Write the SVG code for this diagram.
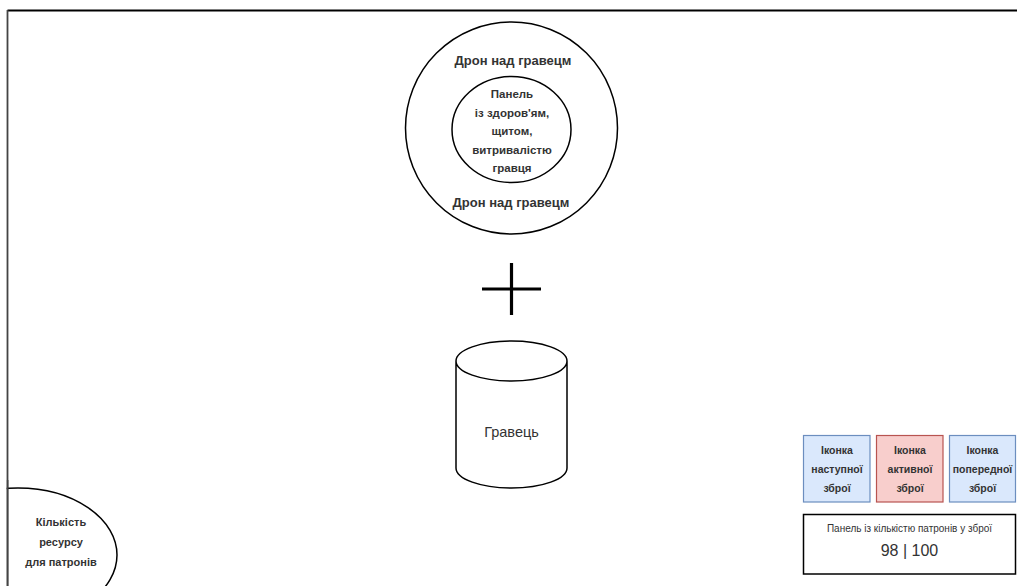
<svg xmlns="http://www.w3.org/2000/svg" width="1017" height="586" viewBox="0 0 1017 586">
<style>
.ln{fill:none;stroke:#000;stroke-width:1.5}
.t{font-family:"Liberation Sans",Arial,sans-serif;fill:#333;text-anchor:middle}
.b{font-weight:bold}
.blue{fill:#dae8fc;stroke:#6c8ebf;stroke-width:1.2}
.red{fill:#f8cecc;stroke:#b85450;stroke-width:1.2}
</style>
<rect width="1017" height="586" fill="#fff"/>
<g id="frame">
<line x1="7.5" y1="10.5" x2="1017" y2="10.5" stroke="#000" stroke-width="2.2"/>
<line x1="7.5" y1="10" x2="7.5" y2="586" stroke="#444" stroke-width="1.8"/>
</g>
<g id="drone">
<circle cx="511.5" cy="128" r="106" class="ln"/>
<text class="t b" x="513" y="65" font-size="13">Дрон над гравецм</text>
<text class="t b" x="511" y="207" font-size="13">Дрон над гравецм</text>
</g>
<g id="panel-health">
<ellipse cx="511.5" cy="129.5" rx="59.5" ry="53" class="ln"/>
<text class="t b" font-size="11.5"><tspan x="512" y="98">Панель</tspan><tspan x="512" y="116.5">із здоров'ям,</tspan><tspan x="512" y="135">щитом,</tspan><tspan x="512" y="153.5">витривалістю</tspan><tspan x="512" y="172">гравця</tspan></text>
</g>
<g id="plus">
<line x1="511.5" y1="263" x2="511.5" y2="315" stroke="#000" stroke-width="3.2"/>
<line x1="482" y1="289" x2="541" y2="289" stroke="#000" stroke-width="3.2"/>
</g>
<g id="player">
<path d="M456,361 L456,468 A55.5,20 0 0 0 567,468 L567,361 A55.5,20 0 0 0 456,361 A55.5,20 0 0 0 567,361" fill="#fff" stroke="#000" stroke-width="1.5"/>
<text class="t" x="511.5" y="437" font-size="14.5">Гравець</text>
</g>
<g id="resource">
<ellipse cx="18" cy="555" rx="99" ry="67" class="ln"/>
<rect x="0" y="480" width="6.6" height="106" fill="#fff"/>
<line x1="7.5" y1="480" x2="7.5" y2="586" stroke="#444" stroke-width="1.8"/>
<text class="t b" font-size="11"><tspan x="61" y="526">Кількість</tspan><tspan x="61" y="546">ресурсу</tspan><tspan x="61" y="566">для патронів</tspan></text>
</g>
<g id="icon-next">
<rect x="803.5" y="435.5" width="66.5" height="66.5" class="blue"/>
<text class="t b" font-size="10.5"><tspan x="837" y="454">Іконка</tspan><tspan x="837" y="473">наступної</tspan><tspan x="837" y="492">зброї</tspan></text>
</g>
<g id="icon-active">
<rect x="876.5" y="435.5" width="66.5" height="66.5" class="red"/>
<text class="t b" font-size="10.5"><tspan x="910" y="454">Іконка</tspan><tspan x="910" y="473">активної</tspan><tspan x="910" y="492">зброї</tspan></text>
</g>
<g id="icon-prev">
<rect x="949.5" y="435.5" width="66" height="66.5" class="blue"/>
<text class="t b" font-size="10.5"><tspan x="982.5" y="454">Іконка</tspan><tspan x="982.5" y="473">попередної</tspan><tspan x="982.5" y="492">зброї</tspan></text>
</g>
<g id="ammo-panel">
<rect x="803.5" y="514.5" width="212" height="59.5" class="ln"/>
<text class="t" x="909.5" y="532" font-size="10">Панель із кількістю патронів у зброї</text>
<text class="t" x="909.5" y="555.5" font-size="16">98 | 100</text>
</g>
<g id="connectors"></g>
</svg>
